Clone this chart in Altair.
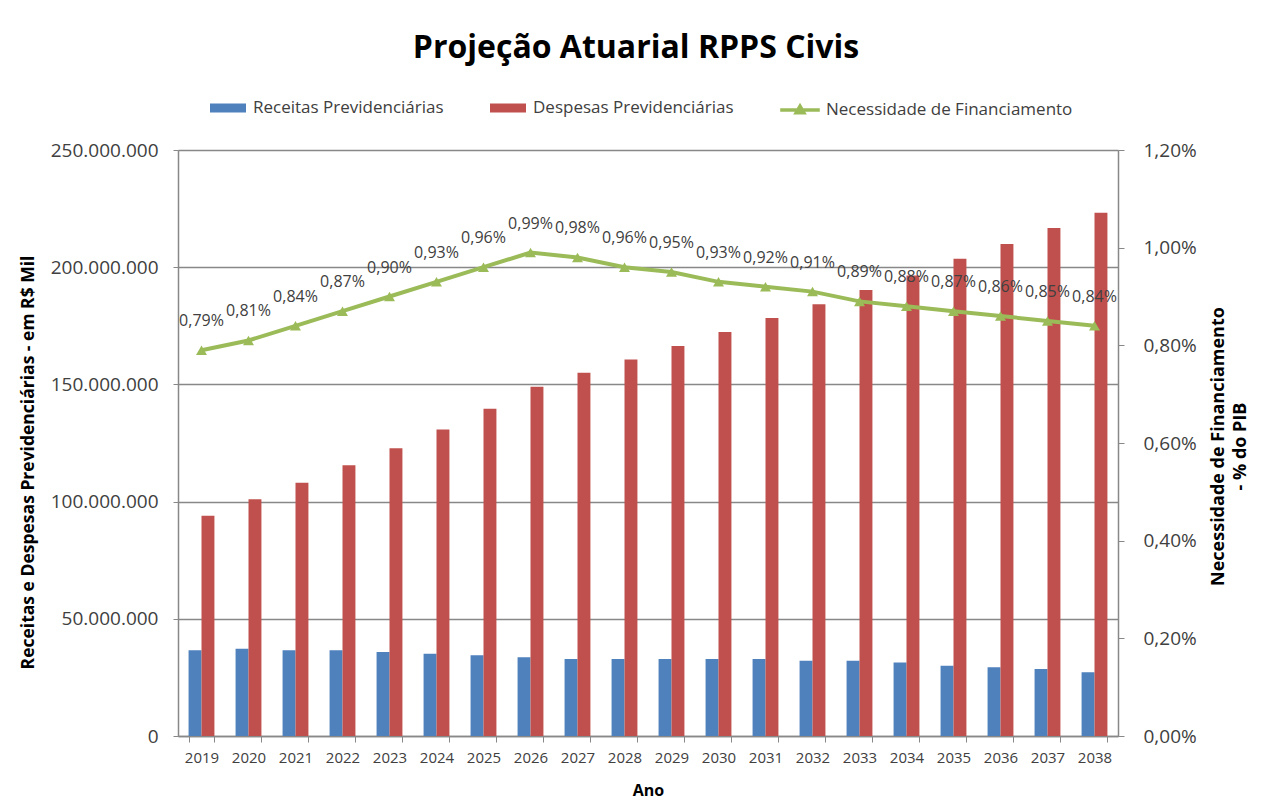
import altair as alt
import pandas as pd

anos = ["2019", "2020", "2021", "2022", "2023", "2024", "2025", "2026", "2027", "2028",
        "2029", "2030", "2031", "2032", "2033", "2034", "2035", "2036", "2037", "2038"]

receitas = [36_600_000, 37_200_000, 36_600_000, 36_600_000, 35_800_000, 35_100_000,
            34_400_000, 33_600_000, 32_900_000, 32_900_000, 32_900_000, 32_900_000,
            32_900_000, 32_100_000, 32_100_000, 31_400_000, 30_000_000, 29_300_000,
            28_600_000, 27_200_000]

despesas = [94_000_000, 101_000_000, 108_000_000, 115_500_000, 122_800_000, 130_800_000,
            139_600_000, 149_000_000, 155_000_000, 160_600_000, 166_400_000, 172_400_000,
            178_300_000, 184_200_000, 190_300_000, 196_500_000, 203_600_000, 209_900_000,
            216_700_000, 223_200_000]

necessidade = [0.0079, 0.0081, 0.0084, 0.0087, 0.0090, 0.0093, 0.0096, 0.0099, 0.0098, 0.0096,
               0.0095, 0.0093, 0.0092, 0.0091, 0.0089, 0.0088, 0.0087, 0.0086, 0.0085, 0.0084]

y_ticks = [0, 50_000_000, 100_000_000, 150_000_000, 200_000_000, 250_000_000]
pct_ticks = [0, 0.002, 0.004, 0.006, 0.008, 0.010, 0.012]

series_barras = ["Receitas Previdenciárias", "Despesas Previdenciárias"]
serie_linha = "Necessidade de Financiamento"

AZUL, VERMELHO, VERDE = "#4F81BD", "#C0504D", "#9BBB59"
CINZA = "#888888"
TXT = "#404040"
FONT = "Open Sans"

df_bars = pd.DataFrame({
    "ano": anos * 2,
    "serie": [series_barras[0]] * len(anos) + [series_barras[1]] * len(anos),
    "valor": receitas + despesas,
})
df_line = pd.DataFrame({"ano": anos, "pct": necessidade, "serie": [serie_linha] * len(anos)})

x_scale = alt.Scale(paddingInner=0.45, paddingOuter=0.225)
x_axis = alt.Axis(title="Ano", labelAngle=0, labelFont=FONT, labelFontSize=15, labelColor=TXT,
                  tickBand="extent", tickSize=6, tickColor=CINZA, domainColor=CINZA,
                  domainWidth=1.5, labelPadding=8, titleFont=FONT, titleFontSize=16,
                  titleFontWeight="bold", titleColor="black", titlePadding=17, grid=False)

bars = alt.Chart(df_bars).mark_bar().encode(
    x=alt.X("ano:O", sort=anos, scale=x_scale, axis=x_axis),
    xOffset=alt.XOffset("serie:N", sort=series_barras),
    y=alt.Y("valor:Q", scale=alt.Scale(domain=[0, 250_000_000], nice=False),
            axis=alt.Axis(title="Receitas e Despesas  Previdenciárias - em R$ Mil",
                          format=",.0f", values=y_ticks,
                          labelFont=FONT, labelFontSize=19, labelColor=TXT,
                          tickSize=5, tickColor=CINZA, labelPadding=15,
                          domainColor=CINZA, domainWidth=1.5,
                          grid=True, gridColor=CINZA, gridWidth=1.5,
                          titleFont=FONT, titleFontSize=17.5, titleFontWeight="bold",
                          titleColor="black", titleAngle=270, titleX=-150, titleY=312,
                          titleBaseline="middle", titleAlign="center")),
    color=alt.Color("serie:N", title=None,
                    scale=alt.Scale(domain=series_barras, range=[AZUL, VERMELHO]),
                    legend=alt.Legend(orient="none", legendX=41, legendY=-51,
                                      direction="horizontal",
                                      symbolType="M-2,-0.5H2V0.5H-2Z", symbolSize=324,
                                      symbolStrokeWidth=0, labelFont=FONT,
                                      labelFontSize=17, labelColor=TXT, labelOffset=16,
                                      labelLimit=400, columnPadding=46, padding=0)),
)

line_base = alt.Chart(df_line).encode(
    x=alt.X("ano:O", sort=anos, scale=x_scale, axis=x_axis),
    y=alt.Y("pct:Q", scale=alt.Scale(domain=[0, 0.012], nice=False),
            axis=alt.Axis(orient="right", format=".2%", values=pct_ticks,
                          title=["Necessidade de Financiamento", "- % do PIB"],
                          labelFont=FONT, labelFontSize=19, labelColor=TXT,
                          tickSize=6, tickColor=CINZA, labelPadding=19,
                          domainColor=CINZA, domainWidth=1.5, grid=False,
                          titleFont=FONT, titleFontSize=18, titleFontWeight="bold",
                          titleColor="black", titleAngle=270, titleX=100, titleY=296,
                          titleBaseline="middle", titleAlign="center", titleLineHeight=22)),
)

line = line_base.mark_line(
    strokeWidth=4,
    point=alt.OverlayMarkDef(shape="triangle-up", size=120, filled=True, color=VERDE),
).encode(
    color=alt.Color("serie:N", title=None,
                    scale=alt.Scale(domain=[serie_linha], range=[VERDE]),
                    legend=alt.Legend(orient="none", legendX=611, legendY=-51,
                                      direction="horizontal",
                                      symbolType="M-2.2,0H2.2M0,-0.42L0.42,0.3H-0.42Z",
                                      symbolSize=324, symbolStrokeWidth=3.5,
                                      symbolFillColor=VERDE, symbolStrokeColor=VERDE,
                                      labelFont=FONT, labelFontSize=17, labelColor=TXT,
                                      labelOffset=15, labelLimit=400, padding=0)),
)

labels = line_base.mark_text(dy=-29, baseline="middle", align="center", font=FONT,
                             fontSize=16, color=TXT).encode(
    text=alt.Text("pct:Q", format=".2%"))

chart = alt.layer(bars, alt.layer(line, labels)).resolve_scale(
    y="independent", color="independent"
).properties(
    width=940, height=586,
    padding={"left": 170, "top": 142, "right": 138, "bottom": 66},
    autosize=alt.AutoSizeParams(type="none"),
    title=alt.Title("Projeção Atuarial RPPS Civis", font=FONT, fontSize=32,
                    fontWeight="bold", color="black", anchor="middle", frame="group",
                    offset=9, baseline="alphabetic", dx=-12),
).configure_view(stroke=CINZA, strokeWidth=1.5).configure(font=FONT)

chart.save("out.html", embed_options={
    "renderer": "svg", "actions": False,
    "formatLocale": {"decimal": ",", "thousands": ".", "grouping": [3],
                     "currency": ["R$", ""]},
})
